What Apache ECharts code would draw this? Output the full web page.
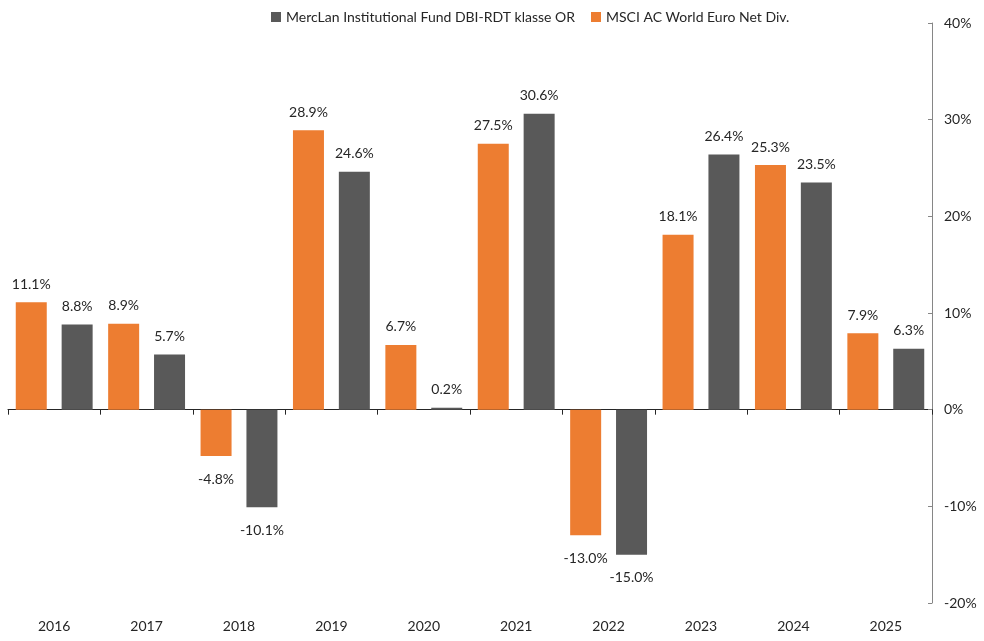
<!DOCTYPE html>
<html>
<head>
<meta charset="utf-8">
<script src="https://cdn.jsdelivr.net/npm/echarts@6/dist/echarts.min.js"></script>
<style>
  html, body { margin: 0; padding: 0; background: #fff; }
  #chart { width: 984px; height: 641px; }
</style>
</head>
<body>
<div id="chart"></div>
<script>
// data
const years = ['2016', '2017', '2018', '2019', '2020', '2021', '2022', '2023', '2024', '2025']
const fundName = 'MercLan Institutional Fund DBI-RDT klasse OR'
const indexName = 'MSCI AC World Euro Net Div.'
const indexValues = [11.1, 8.9, -4.8, 28.9, 6.7, 27.5, -13.0, 18.1, 25.3, 7.9]
const fundValues = [8.8, 5.7, -10.1, 24.6, 0.2, 30.6, -15.0, 26.4, 23.5, 6.3]

const FONT = 'Lato, "Open Sans", sans-serif'
const ORANGE = '#ED7D31'
const GREY = '#595959'

// positive labels above, negative ones below the bar
const withLabels = (vals) => vals.map(v => ({
  value: v,
  label: v < 0
    ? { position: 'bottom', distance: 16 }
    : { position: 'top', distance: 11 }
}))

const barLabel = {
  show: true,
  fontFamily: FONT,
  fontSize: 14,
  color: '#262626',
  formatter: p => p.value.toFixed(1) + '%'
}

const chart = echarts.init(document.getElementById('chart'))
chart.setOption({
  animation: false,
  textStyle: { fontFamily: FONT },
  legend: {
    top: 5,
    left: 266,
    itemWidth: 10,
    itemHeight: 10,
    itemGap: 16,
    icon: 'rect',
    data: [fundName, indexName],
    textStyle: { fontFamily: FONT, fontSize: 14, color: '#262626' }
  },
  grid: { left: 8, right: 52, top: 23, bottom: 38 },
  xAxis: [
    {
      type: 'category',
      data: years,
      axisLine: { onZero: true, lineStyle: { color: '#262626', width: 1 } },
      axisTick: { show: true, length: 5, inside: false, lineStyle: { color: '#262626' } },
      axisLabel: { show: false },
      splitLine: { show: false }
    },
    {
      type: 'category',
      data: years,
      position: 'bottom',
      axisLine: { show: false },
      axisTick: { show: false },
      axisLabel: { fontFamily: FONT, fontSize: 14, color: '#262626', margin: 16 },
      splitLine: { show: false }
    }
  ],
  yAxis: {
    type: 'value',
    position: 'right',
    min: -20,
    max: 40,
    interval: 10,
    axisLine: { show: true, lineStyle: { color: '#868686' } },
    axisTick: { show: true, inside: true, length: 4, lineStyle: { color: '#868686' } },
    axisLabel: {
      fontFamily: FONT, fontSize: 14, color: '#262626', margin: 12,
      formatter: v => v + '%'
    },
    splitLine: { show: false }
  },
  series: [
    {
      name: indexName,
      type: 'bar',
      data: withLabels(indexValues),
      barWidth: 31,
      barGap: '48%',
      itemStyle: { color: ORANGE },
      label: barLabel
    },
    {
      name: fundName,
      type: 'bar',
      data: withLabels(fundValues),
      barWidth: 31,
      itemStyle: { color: GREY },
      label: barLabel
    }
  ]
})

window.addEventListener('resize', () => chart.resize())
</script>
</body>
</html>
